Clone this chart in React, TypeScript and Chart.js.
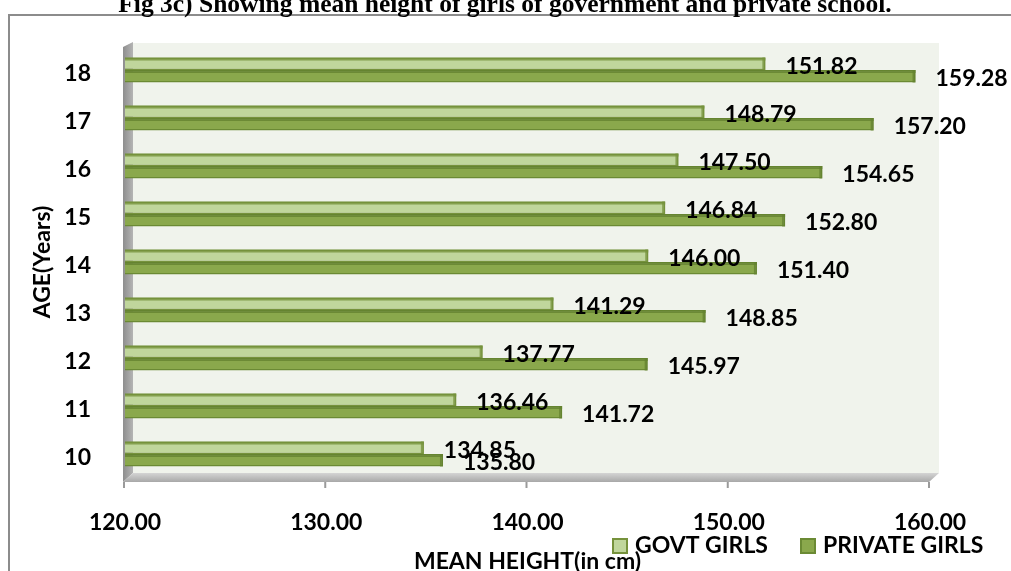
import React, { useEffect, useRef } from 'react';
import { Chart, registerables } from 'chart.js';

Chart.register(...registerables);

const TITLE = 'Fig 3c) Showing mean height of girls of government and private school.';
const AGES = ['18', '17', '16', '15', '14', '13', '12', '11', '10'];
const GOVT_GIRLS = [151.82, 148.79, 147.5, 146.84, 146.0, 141.29, 137.77, 136.46, 134.85];
const PRIVATE_GIRLS = [159.28, 157.2, 154.65, 152.8, 151.4, 148.85, 145.97, 141.72, 135.8];
const SERIES_LABELS = ['GOVT GIRLS', 'PRIVATE GIRLS'];
const X_MIN = 120;
const X_MAX = 160;
const X_STEP = 10;
const X_TITLE = 'MEAN HEIGHT(in cm)';
const Y_TITLE = 'AGE(Years)';

const FONT = 'Lato';
const GOVT_FILL = '#C0D69C';
const GOVT_BORDER = '#76923C';
const PRIV_FILL = '#8AA84C';
const PRIV_BORDER = '#6B8A34';

const decorPlugin = {
  id: 'decor',
  beforeDraw(chart: any) {
    const ctx = chart.ctx;
    const ca = chart.chartArea;
    const xs = chart.scales.x;
    ctx.save();
    // outer frame
    ctx.strokeStyle = '#8C8C8C';
    ctx.lineWidth = 2;
    ctx.strokeRect(9, 15, 1100, 700);
    // back wall
    ctx.fillStyle = '#F0F3EC';
    ctx.fillRect(ca.left + 8, ca.top - 3, ca.right + 9 - (ca.left + 8), ca.bottom - 5 - (ca.top - 3));
    // left wall
    const g = ctx.createLinearGradient(ca.left - 2, 0, ca.left + 8, 0);
    g.addColorStop(0, '#8E8E8E');
    g.addColorStop(1, '#B4B4B4');
    ctx.fillStyle = g;
    ctx.beginPath();
    ctx.moveTo(ca.left - 2, ca.top + 1);
    ctx.lineTo(ca.left + 8, ca.top - 4);
    ctx.lineTo(ca.left + 8, ca.bottom - 5);
    ctx.lineTo(ca.left - 2, ca.bottom + 4);
    ctx.closePath();
    ctx.fill();
    // floor
    const f = ctx.createLinearGradient(0, ca.bottom - 5, 0, ca.bottom + 4);
    f.addColorStop(0, '#D4D4D4');
    f.addColorStop(1, '#A8A8A8');
    ctx.fillStyle = f;
    ctx.beginPath();
    ctx.moveTo(ca.left + 8, ca.bottom - 5);
    ctx.lineTo(ca.right + 9, ca.bottom - 5);
    ctx.lineTo(ca.right - 1, ca.bottom + 4);
    ctx.lineTo(ca.left - 2, ca.bottom + 4);
    ctx.closePath();
    ctx.fill();
    // axis ticks
    ctx.strokeStyle = '#9A9A9A';
    ctx.lineWidth = 2;
    for (let v = X_MIN; v <= X_MAX; v += X_STEP) {
      const px = xs.getPixelForValue(v);
      ctx.beginPath();
      ctx.moveTo(px - 1, ca.bottom + 4);
      ctx.lineTo(px - 1, ca.bottom + 10);
      ctx.stroke();
    }
    ctx.restore();
  },
  afterDatasetsDraw(chart: any) {
    const ctx = chart.ctx;
    const xs = chart.scales.x;
    const basePx = xs.getPixelForValue(X_MIN);
    ctx.save();
    // subtle top face on each bar for the 3-D look
    chart.data.datasets.forEach((ds: any, di: number) => {
      const meta = chart.getDatasetMeta(di);
      meta.data.forEach((bar: any) => {
        const p = bar.getProps(['x', 'y', 'height'], true);
        const top = p.y - p.height / 2;
        ctx.fillStyle = di === 0 ? 'rgba(118,146,60,0.8)' : 'rgba(100,130,48,0.8)';
        ctx.fillRect(basePx, top, p.x - basePx, 3);
        ctx.fillRect(p.x - 3, top, 3, p.height);
      });
    });
    ctx.font = `bold 23px ${FONT}`;
    ctx.fillStyle = '#000';
    ctx.textAlign = 'left';
    ctx.textBaseline = 'middle';
    chart.data.datasets.forEach((ds: any, di: number) => {
      const meta = chart.getDatasetMeta(di);
      meta.data.forEach((bar: any, i: number) => {
        const p = bar.getProps(['x', 'y'], true);
        const v = ds.data[i] as number;
        ctx.fillText(v.toFixed(2), p.x + 20, p.y + (di === 0 ? 3 : 2));
      });
    });
    ctx.restore();
  },
  afterDraw(chart: any) {
    const ctx = chart.ctx;
    ctx.save();
    // title
    ctx.font = 'bold 25.5px "Liberation Serif"';
    ctx.fillStyle = '#000';
    ctx.textAlign = 'center';
    ctx.textBaseline = 'alphabetic';
    ctx.fillText(TITLE, 505, 12);
    // legend
    const items = [
      { x: 612, label: chart.data.datasets[0].label, fill: GOVT_FILL, border: GOVT_BORDER },
      { x: 800, label: chart.data.datasets[1].label, fill: PRIV_FILL, border: PRIV_BORDER },
    ];
    ctx.font = `bold 23px ${FONT}`;
    ctx.textAlign = 'left';
    ctx.textBaseline = 'middle';
    items.forEach((it) => {
      ctx.fillStyle = it.fill;
      ctx.fillRect(it.x, 538, 16, 16);
      ctx.strokeStyle = it.border;
      ctx.lineWidth = 2;
      ctx.strokeRect(it.x + 1, 539, 14, 14);
      ctx.fillStyle = '#000';
      ctx.fillText(it.label, it.x + 23, 546);
    });
    ctx.restore();
  },
};

export default function App() {
  const ref = useRef<HTMLCanvasElement>(null);
  useEffect(() => {
    if (!ref.current) return;
    const chart = new Chart(ref.current, {
      type: 'bar',
      data: {
        labels: AGES,
        datasets: [
          {
            label: SERIES_LABELS[0],
            data: GOVT_GIRLS,
            backgroundColor: GOVT_FILL,
            borderColor: GOVT_BORDER,
            borderWidth: 1.5,
            categoryPercentage: 0.52,
            barPercentage: 1,
          },
          {
            label: SERIES_LABELS[1],
            data: PRIVATE_GIRLS,
            backgroundColor: PRIV_FILL,
            borderColor: PRIV_BORDER,
            borderWidth: 1.5,
            categoryPercentage: 0.52,
            barPercentage: 1,
          },
        ],
      },
      options: {
        indexAxis: 'y',
        responsive: false,
        animation: false,
        layout: { padding: { top: 46, right: 81, left: 0, bottom: 0 } },
        plugins: {
          legend: { display: false },
          title: { display: false },
          tooltip: { enabled: false },
        },
        scales: {
          x: {
            min: X_MIN,
            max: X_MAX,
            grid: { display: false },
            border: { display: false },
            ticks: {
              stepSize: X_STEP,
              padding: 23,
              color: '#000',
              font: { family: FONT, size: 23, weight: 'bold' },
              callback: (v: any) => Number(v).toFixed(2),
            },
            title: {
              display: true,
              text: X_TITLE,
              color: '#000',
              font: { family: FONT, size: 23, weight: 'bold', lineHeight: 0.85 },
              padding: { top: 0, bottom: 0 },
            },
            afterFit: (s: any) => {
              s.height = 93;
            },
          },
          y: {
            grid: { display: false },
            border: { display: false },
            ticks: {
              padding: 26,
              labelOffset: 4,
              color: '#000',
              font: { family: FONT, size: 23, weight: 'bold' },
            },
            title: {
              display: true,
              text: Y_TITLE,
              color: '#000',
              font: { family: FONT, size: 23, weight: 'bold', lineHeight: 1 },
              padding: { top: 31, bottom: 0 },
            },
            afterFit: (s: any) => {
              s.width = 125;
            },
          },
        },
      },
      plugins: [decorPlugin],
    } as any);
    return () => chart.destroy();
  }, []);
  return (
    <div style={{ position: 'fixed', left: 0, top: 0, width: 1011, height: 571, background: '#fff' }}>
      <canvas ref={ref} width={1011} height={571} style={{ display: 'block' }} />
    </div>
  );
}
